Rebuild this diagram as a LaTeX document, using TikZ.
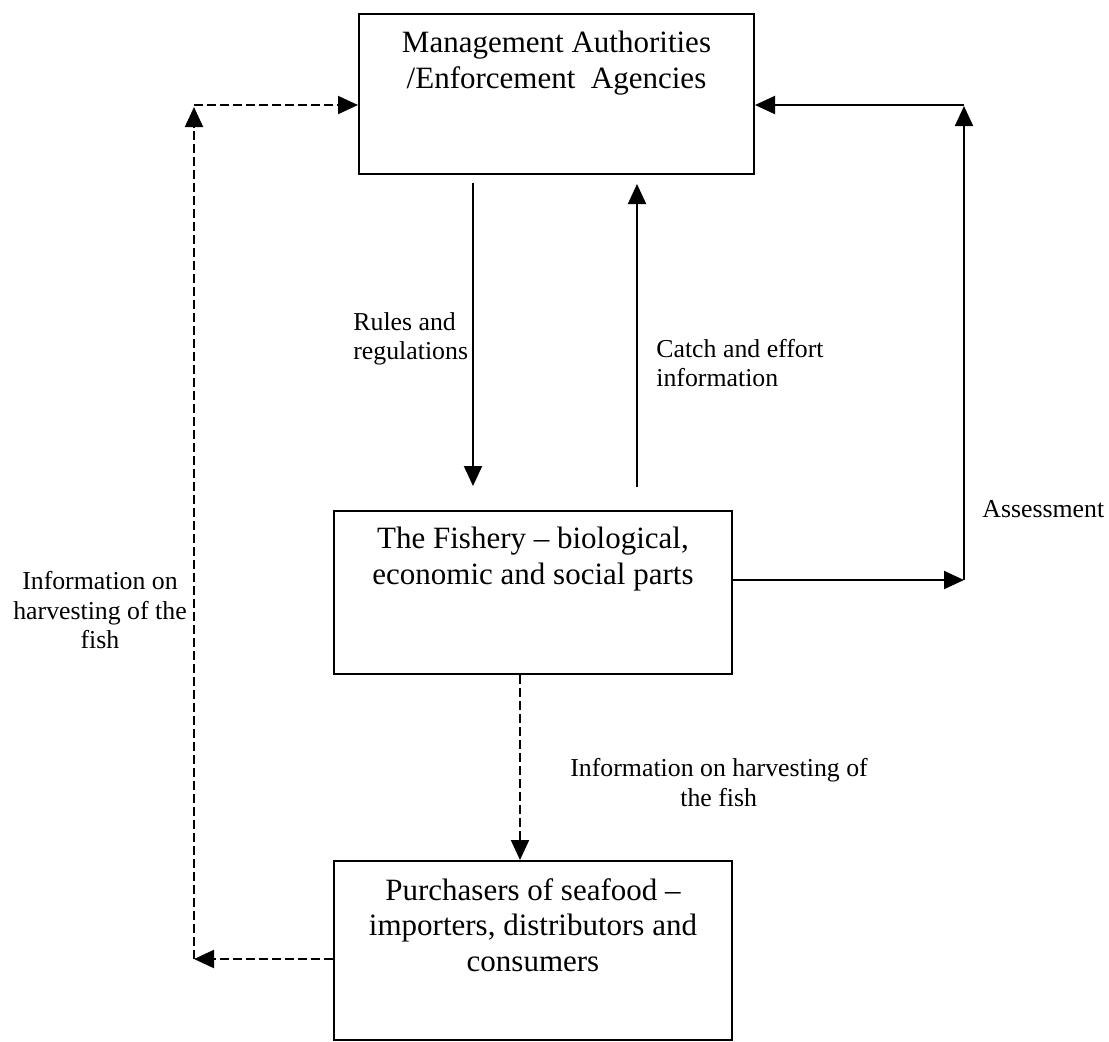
\documentclass[tikz,border=0pt]{standalone}
\usepackage{fontspec}
\setmainfont{Liberation Serif}
\usetikzlibrary{arrows.meta,calc}
\begin{document}
\begin{tikzpicture}[x=0.5pt,y=-0.5pt,
  box/.style={draw, line width=1pt, inner sep=0pt, anchor=north west},
  bigtext/.style={font=\fontsize{15.5}{17.75}\selectfont, align=center, inner sep=0pt, anchor=north},
  lbl/.style={font=\fontsize{12.9}{14.6}\selectfont, inner sep=0pt},
  arr/.style={line width=1pt, -{Triangle[length=10pt,width=9pt]}},
  darr/.style={arr, dash pattern=on 4.3pt off 2.2pt}]
\useasboundingbox (0,0) rectangle (1109,1041);
% boxes
\node[box, minimum width=197.5pt, minimum height=80pt] (mgmt) at (358,13) {};
\node[box, minimum width=199pt, minimum height=81.5pt] (fish) at (333,510) {};
\node[box, minimum width=199pt, minimum height=89.5pt] (purch) at (333,860) {};
% box texts
\node[bigtext] (mgmttext) at ($(mgmt.north)+(0,18)$) {Management Authorities\\/Enforcement\ \ Agencies};
\node[bigtext] (fishtext) at ($(fish.north)+(0,17)$) {The Fishery -- biological,\\economic and social parts};
\node[bigtext] (purchtext) at ($(purch.north)+(0,18)$) {Purchasers of seafood --\\importers, distributors and\\consumers};
% coordinates
\coordinate (r1) at (473,183);
\coordinate (r2) at (473,486);
\coordinate (c1) at (637,487);
\coordinate (c2) at (637,184);
\coordinate (a1) at (964,580);
\coordinate (a2) at (964,106);
\coordinate (a3) at (964,105);
\coordinate (dx) at (520,700);
\coordinate (l1) at (194,959);
\coordinate (l2) at (194,107);
\coordinate (l3) at (194,105);
% solid arrows
\draw[arr] (r1) -- (r2);
\draw[arr] (c1) -- (c2);
\draw[arr] (fish.east |- a1) -- (a1);
\draw[arr] (a1) -- (a2);
\draw[arr] (a3) -- (mgmt.east |- a3);
% dashed arrows
\draw[darr] (fish.south -| dx) -- (purch.north -| dx);
\draw[darr] (purch.west |- l1) -- (l1);
\draw[darr] (l1) -- (l2);
\draw[darr] (l3) -- (mgmt.west |- l3);
% labels
\node[lbl, anchor=north west, align=left] (rules) at (353,312) {Rules and\\regulations};
\node[lbl, anchor=north west, align=left] (catch) at (656,339) {Catch and effort\\information};
\node[lbl, anchor=north west] (assess) at (982,499.6) {Assessment};
\node[lbl, anchor=north west, align=left] (info1) at (570,758.4) {Information on harvesting of\\\hspace*{55pt}the fish};
\node[lbl, anchor=north, align=center] (info2) at (100,571.4) {Information on\\harvesting of the\\fish};
\end{tikzpicture}
\end{document}
